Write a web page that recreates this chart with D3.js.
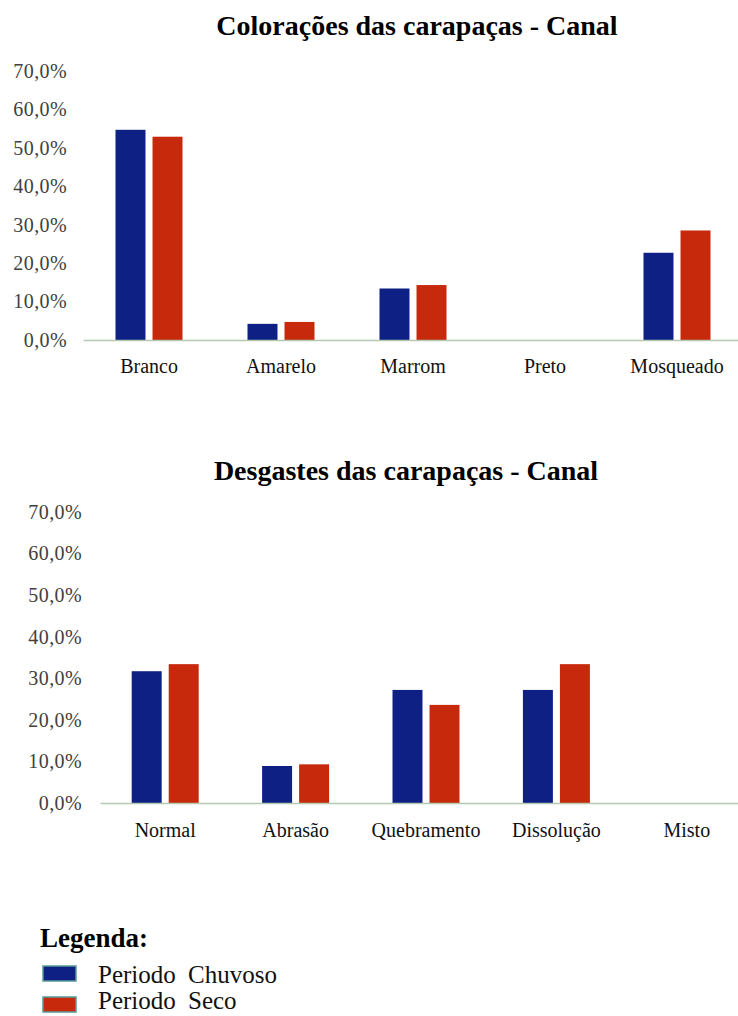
<!DOCTYPE html>
<html>
<head>
<meta charset="utf-8">
<script src="https://cdn.jsdelivr.net/npm/d3@7"></script>
<style>
    body { margin: 0; background: #fff; }
    svg { display: block; font-family: "Liberation Serif", "Times New Roman", serif; }
</style>
</head>
<body>
<div id="chart"></div>
<script>
const seriesNames = ["Periodo Chuvoso", "Periodo Seco"];
const seriesColors = ["#0e2084", "#c6290b"];

const colorTitle = "Colorações das carapaças - Canal";
const colorCats = ["Branco", "Amarelo", "Marrom", "Preto", "Mosqueado"];
const colorChuvoso = [54.7, 4.2, 13.4, 0, 22.7];
const colorSeco = [52.9, 4.7, 14.3, 0, 28.5];

const wearTitle = "Desgastes das carapaças - Canal";
const wearCats = ["Normal", "Abrasão", "Quebramento", "Dissolução", "Misto"];
const wearChuvoso = [31.7, 8.9, 27.2, 27.2, 0];
const wearSeco = [33.4, 9.3, 23.6, 33.4, 0];

const yTicks = [0, 10, 20, 30, 40, 50, 60, 70];

const serif = '"Liberation Serif", "Times New Roman", serif';
const width = 738, height = 1016;
const svg = d3.select("#chart").append("svg")
    .attr("width", width)
    .attr("height", height);

function drawChart(opts) {
    const g = svg.append("g");

    const x0 = d3.scaleBand().domain(opts.cats).range([opts.left, opts.right]).padding(0);
    const x1 = d3.scaleBand().domain([0, 1])
        .range([x0.bandwidth() / 2 - 33.5, x0.bandwidth() / 2 + 33.5])
        .paddingInner(0.19);
    const y = d3.scaleLinear().domain([0, 70]).range([opts.bottom, opts.top]);

    g.append("text")
        .attr("x", opts.titleX)
        .attr("y", opts.titleY)
        .attr("text-anchor", "middle")
        .style("font-family", serif)
        .style("font-weight", "bold")
        .style("font-size", "28px")
        .style("fill", "#000")
        .text(opts.title);

    const yAxis = d3.axisLeft(y)
        .tickValues(yTicks)
        .tickSize(0)
        .tickPadding(opts.yPad)
        .tickFormat(d => d.toFixed(1).replace(".", ",") + "%");

    const ya = g.append("g")
        .attr("transform", `translate(${opts.left},0)`)
        .call(yAxis);
    ya.select(".domain").remove();
    ya.selectAll("text")
        .style("font-family", serif)
        .style("font-size", "20px")
        .style("letter-spacing", "0.4px")
        .style("fill", "#404040");

    const series = [opts.chuvoso, opts.seco];
    series.forEach((vals, s) => {
        g.selectAll(".bar" + s)
            .data(vals)
            .enter()
            .append("rect")
            .attr("x", (d, i) => x0(opts.cats[i]) + x1(s))
            .attr("width", x1.bandwidth())
            .attr("y", d => y(d))
            .attr("height", d => y(0) - y(d))
            .style("fill", seriesColors[s]);
    });

    const xAxis = d3.axisBottom(x0).tickSize(0).tickSizeOuter(0);
    const xa = g.append("g")
        .attr("transform", `translate(0,${opts.bottom})`)
        .call(xAxis);
    xa.select(".domain")
        .style("stroke", "#b5c9b0")
        .style("stroke-width", 1.5);
    xa.selectAll("text")
        .attr("dy", null)
        .attr("y", opts.labelY)
        .style("font-family", serif)
        .style("font-size", "20px")
        .style("fill", "#111");
}

drawChart({
    title: colorTitle, titleX: 417, titleY: 35,
    cats: colorCats, chuvoso: colorChuvoso, seco: colorSeco,
    left: 83, right: 743, top: 71, bottom: 340, yPad: 16, labelY: 33
});

drawChart({
    title: wearTitle, titleX: 406, titleY: 480,
    cats: wearCats, chuvoso: wearChuvoso, seco: wearSeco,
    left: 100, right: 752, top: 512, bottom: 803, yPad: 18, labelY: 34
});

// legenda
const legend = svg.append("g");
legend.append("text")
    .attr("x", 40)
    .attr("y", 947)
    .style("font-family", serif)
    .style("font-weight", "bold")
    .style("font-size", "27px")
    .text("Legenda:");

const items = legend.selectAll(".item")
    .data(seriesNames)
    .enter()
    .append("g")
    .attr("transform", (d, i) => `translate(43,${966 + i * 31})`);

items.append("rect")
    .attr("width", 33)
    .attr("height", 15)
    .style("fill", (d, i) => seriesColors[i])
    .style("stroke", "#5a9a96")
    .style("stroke-width", 1.5);

items.append("text")
    .attr("x", 55)
    .attr("y", (d, i) => i === 0 ? 17 : 12)
    .style("font-family", serif)
    .style("font-size", "25px")
    .style("word-spacing", "6px")
    .style("fill", "#111")
    .text(d => d);
</script>
</body>
</html>
